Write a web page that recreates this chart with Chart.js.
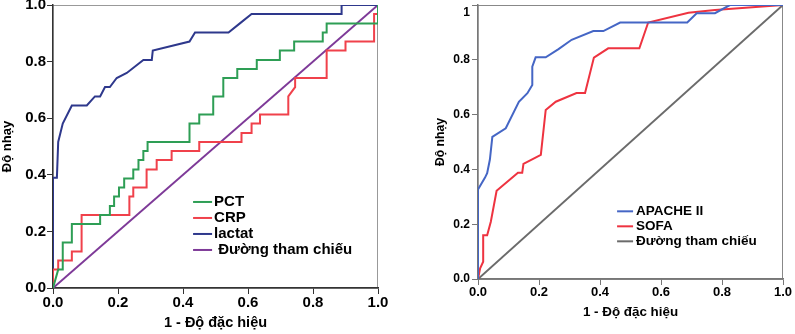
<!DOCTYPE html>
<html><head><meta charset="utf-8">
<script src="https://cdn.jsdelivr.net/npm/chart.js@4/dist/chart.umd.min.js"></script>
<style>
html,body{margin:0;padding:0;background:#fff;width:795px;height:334px;overflow:hidden}
#c1{position:absolute;left:0;top:0}
#c2{position:absolute;left:400px;top:0}
</style></head><body>
<canvas id="c1" width="400" height="334"></canvas>
<canvas id="c2" width="395" height="334"></canvas>
<script>
// ---------- shared ----------
const tickValues = [0, 0.2, 0.4, 0.6, 0.8, 1.0];
const leftTickLabels = ['0.0', '0.2', '0.4', '0.6', '0.8', '1.0'];
const rightYTickLabels = ['0.0', '0.2', '0.4', '0.6', '0.8', ['', '1']];
const rightXTickLabels = ['0.0', '0.2', '0.4', '0.6', '0.8', '1.0'];
const xTitle = '1 - Độ đặc hiệu';
const yTitle = 'Độ nhạy';

// ---------- left chart ----------
const leftSeriesNames = ['PCT', 'CRP', 'lactat', ' Đường tham chiếu'];
const pctX = [0,0.016,0.03,0.03,0.058,0.058,0.145,0.145,0.175,0.175,0.188,0.188,0.203,0.203,0.219,0.219,0.247,0.247,0.263,0.263,0.278,0.278,0.291,0.291,0.42,0.42,0.45,0.45,0.493,0.493,0.524,0.524,0.567,0.567,0.627,0.627,0.698,0.698,0.742,0.742,0.83,0.83,0.842,0.842,1,1];
const pctY = [0,0.065,0.065,0.161,0.161,0.226,0.226,0.258,0.258,0.29,0.29,0.323,0.323,0.355,0.355,0.387,0.387,0.419,0.419,0.452,0.452,0.484,0.484,0.516,0.516,0.581,0.581,0.613,0.613,0.677,0.677,0.742,0.742,0.774,0.774,0.806,0.806,0.839,0.839,0.871,0.871,0.903,0.903,0.935,0.935,1];
const crpX = [0,0,0.016,0.016,0.058,0.058,0.088,0.088,0.235,0.235,0.247,0.247,0.288,0.288,0.319,0.319,0.365,0.365,0.45,0.45,0.58,0.58,0.611,0.611,0.637,0.637,0.724,0.724,0.745,0.745,0.842,0.842,0.9,0.9,0.988,0.988,1,1];
const crpY = [0,0.065,0.065,0.097,0.097,0.129,0.129,0.258,0.258,0.323,0.323,0.355,0.355,0.419,0.419,0.452,0.452,0.484,0.484,0.516,0.516,0.548,0.548,0.581,0.581,0.613,0.613,0.677,0.71,0.742,0.742,0.839,0.839,0.871,0.871,0.968,0.968,1];
const lactatX = [0,0,0.012,0.016,0.03,0.058,0.104,0.129,0.145,0.16,0.175,0.196,0.227,0.278,0.304,0.307,0.42,0.437,0.54,0.575,0.611,0.888,0.888,1];
const lactatY = [0,0.39,0.39,0.516,0.581,0.645,0.645,0.677,0.677,0.71,0.71,0.742,0.76,0.806,0.806,0.839,0.871,0.903,0.903,0.935,0.968,0.968,1,1];
const refX = [0, 1];
const refY = [0, 1];

// ---------- right chart ----------
const rightSeriesNames = ['APACHE II', 'SOFA', 'Đường tham chiếu'];
const apacheX = [0,0,0.023,0.03,0.039,0.047,0.091,0.134,0.162,0.178,0.178,0.189,0.222,0.264,0.307,0.378,0.411,0.466,0.686,0.717,0.777,0.826,1];
const apacheY = [0,0.327,0.37,0.386,0.436,0.519,0.55,0.647,0.678,0.708,0.775,0.809,0.809,0.839,0.873,0.905,0.905,0.936,0.936,0.97,0.97,1,1];
const sofaX = [0,0.007,0.017,0.017,0.03,0.042,0.061,0.131,0.145,0.149,0.206,0.222,0.255,0.323,0.351,0.38,0.427,0.529,0.558,0.69,0.777,1];
const sofaY = [0,0.039,0.063,0.16,0.16,0.209,0.322,0.388,0.388,0.42,0.453,0.617,0.647,0.679,0.679,0.808,0.842,0.842,0.936,0.972,0.982,1];

const pts = (xs, ys) => xs.map((x, i) => ({x, y: ys[i]}));
const FONT = "'Liberation Sans', Arial, sans-serif";

const framePlugin = {
  id: 'frame',
  beforeDraw(chart, args, opts) {
    const a = chart.chartArea, ctx = chart.ctx;
    ctx.save();
    ctx.strokeStyle = opts.color;
    ctx.lineWidth = 1;
    ctx.strokeRect(a.left, a.top + 0.5, a.width - 0.5, a.height);
    ctx.restore();
  }
};

const inLegend = {
  id: 'inLegend',
  afterDatasetsDraw(chart, args, opts) {
    const ctx = chart.ctx, a = chart.chartArea;
    const x0 = a.left + a.width * opts.x;
    let y = a.top + a.height * opts.y;
    ctx.save();
    ctx.font = opts.font;
    ctx.textBaseline = 'middle';
    ctx.textAlign = 'left';
    chart.data.datasets.forEach(ds => {
      ctx.strokeStyle = ds.borderColor;
      ctx.lineWidth = 2;
      ctx.beginPath();
      ctx.moveTo(x0, y);
      ctx.lineTo(x0 + opts.sample, y);
      ctx.stroke();
      ctx.fillStyle = '#000';
      ctx.fillText(ds.label, x0 + opts.sample + opts.gap, y);
      y += opts.spacing;
    });
    ctx.restore();
  }
};

function lineDs(label, data, color) {
  return {label, data, borderColor: color, backgroundColor: color, borderWidth: 2,
          showLine: true, pointRadius: 0, pointHoverRadius: 0, tension: 0, fill: false};
}

function makeScales(cfg) {
  return {
    x: {
      type: 'linear', min: 0, max: 1,
      afterBuildTicks: s => { s.ticks = tickValues.map(v => ({value: v})); },
      afterFit: s => { s.height = cfg.xHeight; s.paddingLeft = 0; s.paddingRight = 0; },
      ticks: {callback: (v, i) => cfg.xLabels[i], color: '#000', padding: 0,
              font: {family: FONT, size: cfg.xTickSize, weight: 'bold'}, maxRotation: 0, autoSkip: false},
      grid: {drawOnChartArea: false, drawTicks: true, tickLength: 6, color: cfg.axisColor, lineWidth: 1},
      border: {display: true, color: cfg.axisColor, width: cfg.axisWidth},
      title: {display: true, text: xTitle, color: '#000',
              font: {family: FONT, size: cfg.xTitleSize, weight: 'bold'}, padding: {top: 0, bottom: cfg.xTitlePad}}
    },
    y: {
      type: 'linear', min: 0, max: 1,
      afterBuildTicks: s => { s.ticks = tickValues.map(v => ({value: v})); },
      afterFit: s => { s.width = cfg.yWidth; s.paddingTop = 0; s.paddingBottom = 0; },
      ticks: {callback: (v, i) => cfg.yLabels[i], color: '#000', padding: cfg.yTickPad,
              font: {family: FONT, size: cfg.yTickSize, weight: 'bold'}, autoSkip: false},
      grid: {drawOnChartArea: false, drawTicks: true, tickLength: 6, color: cfg.axisColor, lineWidth: 1},
      border: {display: true, color: cfg.axisColor, width: cfg.axisWidth},
      title: {display: true, text: yTitle, color: '#000',
              font: {family: FONT, size: cfg.yTitleSize, weight: 'bold'}, padding: {top: cfg.yTitlePad, bottom: 0}}
    }
  };
}

new Chart(document.getElementById('c1'), {
  type: 'scatter',
  data: {datasets: [
    lineDs(leftSeriesNames[0], pts(pctX, pctY), '#2E9E55'),
    lineDs(leftSeriesNames[1], pts(crpX, crpY), '#F0414B'),
    lineDs(leftSeriesNames[2], pts(lactatX, lactatY), '#2E388C'),
    lineDs(leftSeriesNames[3], pts(refX, refY), '#7E3A98')
  ]},
  options: {
    responsive: false, animation: false, devicePixelRatio: 1,
    layout: {padding: {left: 0, top: 5, right: 22, bottom: 0}},
    scales: makeScales({xHeight: 46, yWidth: 53, xLabels: leftTickLabels, yLabels: leftTickLabels,
      xTickSize: 15, yTickSize: 15, xTitleSize: 14.5, yTitleSize: 13, xTitlePad: 2, yTitlePad: 0,
      yTickPad: 1, axisColor: '#333', axisWidth: 1.5}),
    plugins: {
      legend: {display: false}, tooltip: {enabled: false},
      frame: {color: '#999'},
      inLegend: {x: 0.431, y: 0.696, spacing: 16, sample: 19, gap: 2, font: "bold 15px " + FONT}
    }
  },
  plugins: [framePlugin, inLegend]
});

new Chart(document.getElementById('c2'), {
  type: 'scatter',
  data: {datasets: [
    lineDs(rightSeriesNames[0], pts(apacheX, apacheY), '#4566C5'),
    lineDs(rightSeriesNames[1], pts(sofaX, sofaY), '#EE3340'),
    lineDs(rightSeriesNames[2], pts(refX, refY), '#6B6B6B')
  ]},
  options: {
    responsive: false, animation: false, devicePixelRatio: 1,
    layout: {padding: {left: 30, top: 5, right: 12, bottom: 0}},
    scales: makeScales({xHeight: 55, yWidth: 48, xLabels: rightXTickLabels, yLabels: rightYTickLabels,
      xTickSize: 13, yTickSize: 12, xTitleSize: 13.4, yTitleSize: 12.2, xTitlePad: 14, yTitlePad: 3,
      yTickPad: 2, axisColor: '#777', axisWidth: 1.5}),
    plugins: {
      legend: {display: false}, tooltip: {enabled: false},
      frame: {color: '#888'},
      inLegend: {x: 0.456, y: 0.753, spacing: 15, sample: 16, gap: 3, font: "bold 13.5px " + FONT}
    }
  },
  plugins: [framePlugin, inLegend]
});
</script>
</body></html>
